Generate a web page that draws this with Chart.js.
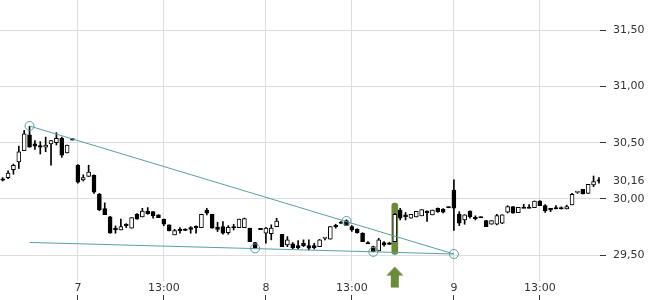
<!DOCTYPE html>
<html>
<head>
<meta charset="utf-8">
<title>Kursverlauf</title>
<script src="https://cdn.jsdelivr.net/npm/chart.js@4/dist/chart.umd.min.js"></script>
<style>
  html, body { margin: 0; padding: 0; background: #fff; }
  #chart { display: block; }
</style>
</head>
<body>
<canvas id="chart" width="650" height="300"></canvas>
<script>
/* =========================
   DATA (15 min candles)
========================= */

const openPrices = [
  30.175, 30.19, 30.26, 30.33, 30.43, 30.57, 30.49, 30.475, 30.46, 30.49,
  30.50, 30.54, 30.41, 30.53, 30.30, 30.17, 30.20, 30.21, 30.04, 29.915,
  29.84, 29.74, 29.725, 29.775, 29.74, 29.864, 29.84, 29.893, 29.887, 29.858,
  29.822, 29.769, 29.68, 29.73, 29.73, 29.745, 29.754, 29.745, 29.902, 29.864,
  29.748, 29.754, 29.70, 29.754, 29.745, 29.745, 29.74, 29.612, 29.733, 29.695,
  29.69, 29.754, 29.686, 29.591, 29.60, 29.585, 29.606, 29.585, 29.585, 29.576,
  29.652, 29.642, 29.763, 29.793, 29.807, 29.754, 29.73, 29.695, 29.606, 29.576,
  29.538, 29.612, 29.61, 29.62, 29.902, 29.858, 29.828, 29.84, 29.85, 29.89,
  29.858, 29.917, 29.908, 29.926, 30.08, 29.864, 29.813, 29.893, 29.834, 29.837,
  29.807, 29.775, 29.775, 29.784, 29.882, 29.932, 29.878, 29.923, 29.923, 29.923,
  29.982, 29.94, 29.917, 29.923, 29.922, 29.911, 29.947, 30.062, 30.086, 30.05,
  30.124, 30.169
];

const highPrices = [
  30.19, 30.25, 30.31, 30.47, 30.61, 30.645, 30.52, 30.51, 30.55, 30.52,
  30.59, 30.55, 30.48, 30.535, 30.305, 30.215, 30.30, 30.215, 30.05, 29.965,
  29.845, 29.76, 29.82, 29.78, 29.834, 29.87, 29.917, 29.923, 29.887, 29.86,
  29.822, 29.77, 29.73, 29.745, 29.735, 29.754, 29.76, 29.864, 29.917, 29.864,
  29.793, 29.798, 29.763, 29.775, 29.82, 29.83, 29.74, 29.615, 29.735, 29.748,
  29.77, 29.828, 29.686, 29.665, 29.612, 29.63, 29.636, 29.636, 29.606, 29.64,
  29.656, 29.754, 29.775, 29.80, 29.815, 29.763, 29.735, 29.70, 29.62, 29.58,
  29.65, 29.62, 29.615, 29.87, 29.917, 29.88, 29.864, 29.89, 29.905, 29.895,
  29.902, 29.92, 29.915, 29.93, 30.17, 29.887, 29.86, 29.895, 29.85, 29.84,
  29.81, 29.807, 29.864, 29.86, 29.94, 29.932, 29.926, 29.953, 29.95, 29.982,
  29.985, 29.95, 29.917, 29.94, 29.93, 29.945, 30.05, 30.065, 30.086, 30.13,
  30.204, 30.19
];

const lowPrices = [
  30.16, 30.18, 30.22, 30.27, 30.43, 30.46, 30.44, 30.40, 30.42, 30.30,
  30.48, 30.37, 30.41, 30.525, 30.14, 30.16, 30.20, 30.05, 29.895, 29.86,
  29.695, 29.695, 29.725, 29.745, 29.74, 29.82, 29.84, 29.864, 29.828, 29.834,
  29.763, 29.716, 29.68, 29.695, 29.718, 29.695, 29.695, 29.745, 29.858, 29.74,
  29.71, 29.686, 29.686, 29.724, 29.745, 29.745, 29.62, 29.56, 29.73, 29.606,
  29.636, 29.754, 29.576, 29.576, 29.555, 29.555, 29.576, 29.547, 29.555, 29.576,
  29.636, 29.642, 29.74, 29.784, 29.763, 29.71, 29.695, 29.62, 29.603, 29.53,
  29.538, 29.58, 29.595, 29.62, 29.813, 29.813, 29.828, 29.84, 29.85, 29.80,
  29.858, 29.88, 29.875, 29.922, 29.72, 29.763, 29.775, 29.828, 29.813, 29.834,
  29.754, 29.775, 29.77, 29.78, 29.875, 29.873, 29.878, 29.92, 29.92, 29.923,
  29.94, 29.88, 29.887, 29.911, 29.91, 29.911, 29.947, 30.05, 30.044, 30.05,
  30.109, 30.14
];

const closePrices = [
  30.17, 30.23, 30.30, 30.42, 30.58, 30.46, 30.47, 30.46, 30.48, 30.52,
  30.54, 30.39, 30.48, 30.53, 30.15, 30.19, 30.24, 30.06, 29.905, 29.86,
  29.695, 29.725, 29.755, 29.763, 29.834, 29.82, 29.893, 29.87, 29.85, 29.834,
  29.775, 29.716, 29.718, 29.718, 29.72, 29.73, 29.745, 29.864, 29.873, 29.74,
  29.73, 29.695, 29.748, 29.742, 29.82, 29.825, 29.62, 29.562, 29.733, 29.74,
  29.74, 29.804, 29.576, 29.636, 29.567, 29.567, 29.585, 29.562, 29.567, 29.636,
  29.656, 29.754, 29.754, 29.784, 29.763, 29.725, 29.70, 29.62, 29.604, 29.532,
  29.636, 29.591, 29.595, 29.864, 29.828, 29.843, 29.864, 29.89, 29.905, 29.88,
  29.902, 29.887, 29.882, 29.926, 29.917, 29.784, 29.858, 29.843, 29.828, 29.837,
  29.754, 29.807, 29.852, 29.858, 29.932, 29.873, 29.926, 29.92, 29.92, 29.982,
  29.94, 29.893, 29.902, 29.911, 29.911, 29.932, 30.042, 30.065, 30.044, 30.13,
  30.154, 30.16
];

// x axis: candle index of each label
const xTickIndex = [14, 30, 49, 65, 84, 100];
const xTickLabels = ["7", "13:00", "8", "13:00", "9", "13:00"];

const yTicks = [29.5, 30, 30.5, 31, 31.5];
const lastPrice = 30.16;

// trend lines and touch points
const upperTrendX = [5, 84];
const upperTrendY = [30.649, 29.51];
const lowerTrendX = [5, 84];
const lowerTrendY = [29.613, 29.51];
const markerX = [5, 47, 64, 69, 84];
const markerY = [30.649, 29.56, 29.804, 29.529, 29.51];

// signal candle highlight + arrow
const signalIndex = 73;
const signalRange = [29.507, 29.964];
const arrowPrice = 29.305;


/* =========================
   STYLE
========================= */

const TEAL = "#5b9ea6";
const OLIVE = "#6b8a3a";
const GRID = "#dedede";
const TEXT = "#333";

Chart.defaults.font.family = "'DejaVu Sans', sans-serif";
Chart.defaults.font.size = 11;
Chart.defaults.color = TEXT;


/* =========================
   BUILD DATASETS
========================= */

const idx = openPrices.map((_, i) => i);

const wicks = idx.map(i => ({ x: i, y: [lowPrices[i], highPrices[i]] }));

const bodies = idx.map(i => {
  let lo = Math.min(openPrices[i], closePrices[i]);
  let hi = Math.max(openPrices[i], closePrices[i]);
  // doji -> thin dash
  if (hi - lo < 0.012) {
    const m = (hi + lo) / 2;
    lo = m - 0.006;
    hi = m + 0.006;
  }
  return { x: i, y: [lo, hi] };
});

const bodyFill = idx.map(i => closePrices[i] > openPrices[i] ? "#fff" : "#000");

const toPoints = (xs, ys) => xs.map((x, i) => ({ x: x, y: ys[i] }));

function makeArrow() {
  const c = document.createElement("canvas");
  c.width = 18;
  c.height = 22;
  const g = c.getContext("2d");
  g.fillStyle = OLIVE;
  g.beginPath();
  g.moveTo(9, 0.5);
  g.lineTo(17.5, 9.5);
  g.lineTo(13, 9.5);
  g.lineTo(13, 21.5);
  g.lineTo(5, 21.5);
  g.lineTo(5, 9.5);
  g.lineTo(0.5, 9.5);
  g.closePath();
  g.fill();
  return c;
}

const setXTicks = scale => {
  scale.ticks = xTickIndex.map(v => ({ value: v }));
};

const xMin = -0.5;
const xMax = 111.2;


/* =========================
   CHART
========================= */

new Chart(document.getElementById("chart"), {
  type: "bar",
  data: {
    datasets: [
      {
        type: "line",
        data: [{ x: signalIndex, y: arrowPrice }],
        showLine: false,
        pointStyle: makeArrow(),
        pointRadius: 10,
        clip: false,
        order: 0
      },
      {
        type: "line",
        data: toPoints(markerX, markerY),
        showLine: false,
        pointRadius: 4.5,
        pointBorderWidth: 1,
        pointBorderColor: TEAL,
        pointBackgroundColor: "rgba(0,0,0,0)",
        order: 1
      },
      {
        type: "line",
        data: toPoints(upperTrendX, upperTrendY),
        borderColor: TEAL,
        borderWidth: 1,
        pointRadius: 0,
        fill: false,
        order: 2
      },
      {
        type: "line",
        data: toPoints(lowerTrendX, lowerTrendY),
        borderColor: TEAL,
        borderWidth: 1,
        pointRadius: 0,
        fill: false,
        order: 2
      },
      {
        data: bodies,
        backgroundColor: bodyFill,
        borderColor: "#000",
        borderWidth: 1,
        borderSkipped: false,
        barThickness: 4,
        grouped: false,
        order: 3
      },
      {
        data: wicks,
        backgroundColor: "#000",
        borderWidth: 0,
        barThickness: 1,
        grouped: false,
        order: 4
      },
      {
        data: [{ x: signalIndex, y: signalRange }],
        backgroundColor: OLIVE,
        borderWidth: 0,
        borderRadius: 3,
        borderSkipped: false,
        barThickness: 6,
        grouped: false,
        order: 5
      }
    ]
  },
  options: {
    responsive: false,
    animation: false,
    layout: { padding: 0, autoPadding: false },
    plugins: {
      legend: { display: false },
      tooltip: { enabled: false }
    },
    scales: {
      x: {
        type: "linear",
        position: "bottom",
        weight: 0,
        min: xMin,
        max: xMax,
        offset: false,
        afterBuildTicks: setXTicks,
        afterFit: scale => { scale.height = 14; },
        grid: { color: GRID, offset: false, drawTicks: false },
        border: { display: false },
        ticks: {
          autoSkip: false,
          maxRotation: 0,
          padding: 1,
          callback: v => xTickLabels[xTickIndex.indexOf(v)]
        }
      },
      x2: {
        type: "linear",
        position: "bottom",
        weight: 1,
        min: xMin,
        max: xMax,
        offset: false,
        afterBuildTicks: setXTicks,
        afterFit: scale => { scale.height = 5; },
        grid: {
          drawOnChartArea: false,
          drawTicks: true,
          tickLength: 5,
          tickColor: TEXT,
          offset: false
        },
        border: { display: false },
        ticks: { display: false }
      },
      y: {
        type: "linear",
        position: "right",
        min: 29.27,
        max: 31.77,
        beginAtZero: false,
        afterBuildTicks: scale => {
          scale.ticks = yTicks.concat([lastPrice])
            .sort((a, b) => a - b)
            .map(v => ({ value: v }));
        },
        afterFit: scale => {
          scale.width = 50;
          scale.paddingTop = 0;
          scale.paddingBottom = 0;
        },
        grid: {
          color: ctx => ctx.tick && ctx.tick.value === lastPrice ? "rgba(0,0,0,0)" : GRID,
          tickColor: ctx => ctx.tick && ctx.tick.value === lastPrice ? "rgba(0,0,0,0)" : TEXT,
          tickLength: 6
        },
        border: { display: false },
        ticks: {
          autoSkip: false,
          padding: 7,
          callback: v => v.toFixed(2).replace(".", ",")
        }
      }
    }
  }
});
</script>
</body>
</html>
